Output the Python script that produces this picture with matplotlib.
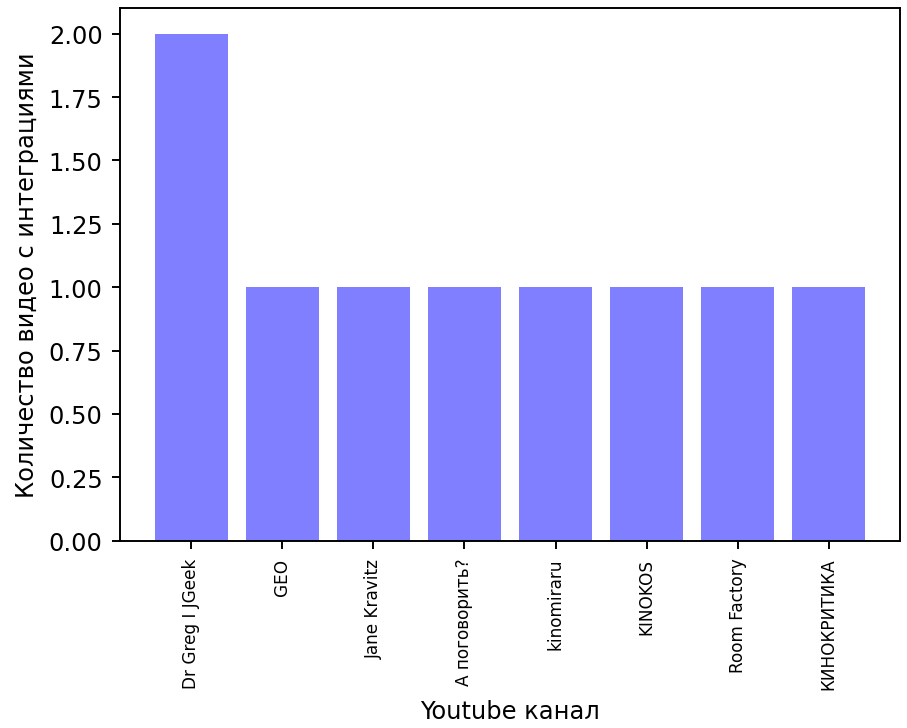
import matplotlib.pyplot as plt

# Данные: количество видео с интеграциями по каналам
channels = ['Dr Greg I JGeek', 'GEO', 'Jane Kravitz', 'А поговорить?',
            'kinomiraru', 'KINOKOS', 'Room Factory', 'КИНОКРИТИКА']
video_counts = [2, 1, 1, 1, 1, 1, 1, 1]

DPI = 174
fig = plt.figure(figsize=(907 / DPI, 729 / DPI), dpi=DPI)
ax = fig.add_axes([0.1318, 0.2569, 0.861, 0.7303])

ax.bar(channels, video_counts, color='blue', alpha=0.5)
ax.set_xlabel('Youtube канал')
ax.set_ylabel('Количество видео с интеграциями')
ax.tick_params(axis='x', labelrotation=90, labelsize=7)

fig.savefig('out.png', dpi=DPI)
